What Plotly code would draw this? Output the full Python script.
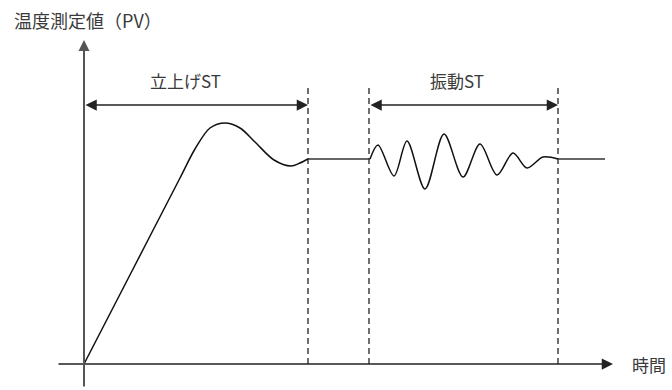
import plotly.graph_objects as go

# Process value (PV) over time, split into phases
# rise-up self-tuning (overshoot and settle)
rise_time = [0, 48, 96, 111, 126, 141, 156, 171, 190, 207, 216, 224]
rise_pv = [0, 93, 186, 215, 236, 241, 236, 222, 204, 198, 201, 205]
# hold between the two tuning phases
hold_time = [224, 286]
hold_pv = [205, 205]
# vibration self-tuning (oscillation around the set value)
vib_time = [286, 294, 310, 323, 341, 360, 379, 396, 413, 429, 443, 459, 474]
vib_pv = [205, 219, 188, 223, 175, 230, 187, 220, 189, 211, 196, 207, 205]
# steady state after tuning
end_time = [474, 521]
end_pv = [205, 205]

# Phase spans and labels
rise_st = [0, 224]
vib_st = [285, 474]
phase_labels = ["立上げST", "振動ST"]
label_x = [101, 373]
y_title = "温度測定値（PV）"
x_title = "時間"

# Plot extents (axis lines, arrow level, top of guide lines)
x_axis_span = [-27, 529]
y_axis_span = [-24, 324]
arrow_level = 259
guide_top = 278
label_level = 284

FONT = "Noto Sans CJK JP, Noto Sans, sans-serif"
TEXT_COLOR = "#3a3a3a"

fig = go.Figure()

for tx, ty, shape in [(rise_time, rise_pv, "spline"), (hold_time, hold_pv, "linear"),
                      (vib_time, vib_pv, "spline"), (end_time, end_pv, "linear")]:
    fig.add_trace(go.Scatter(
        x=tx, y=ty, mode="lines",
        line=dict(color="#111111" if shape == "spline" else "#333333",
                  width=1.5, shape=shape, smoothing=0.9),
        hoverinfo="skip", showlegend=False,
    ))

shapes = []
# dashed guide lines at the phase boundaries
for xb in [rise_st[1], vib_st[0], vib_st[1]]:
    shapes.append(dict(
        type="line", xref="x", yref="y", x0=xb, x1=xb, y0=0, y1=guide_top,
        line=dict(color="#222222", width=1.3, dash="6px,4px"), layer="below",
    ))

annotations = []
# axes drawn as arrows
annotations.append(dict(
    x=x_axis_span[1], y=0, ax=x_axis_span[0], ay=0,
    xref="x", yref="y", axref="x", ayref="y", text="",
    showarrow=True, arrowhead=2, arrowsize=1.5, arrowwidth=1.5, arrowcolor="#222222",
))
annotations.append(dict(
    x=0, y=y_axis_span[1], ax=0, ay=y_axis_span[0],
    xref="x", yref="y", axref="x", ayref="y", text="",
    showarrow=True, arrowhead=2, arrowsize=1.1, arrowwidth=2, arrowcolor="#555555",
))

# double-headed span arrows with labels
for (x0, x1), label, lx in zip([rise_st, vib_st], phase_labels, label_x):
    annotations.append(dict(
        x=x1, y=arrow_level, ax=x0, ay=arrow_level,
        xref="x", yref="y", axref="x", ayref="y", text="",
        showarrow=True, arrowside="end+start",
        arrowhead=2, startarrowhead=2,
        arrowsize=1.5, startarrowsize=1.5, arrowwidth=1.5, arrowcolor="#222222",
    ))
    annotations.append(dict(
        x=lx, y=label_level, xref="x", yref="y", text=label,
        showarrow=False, font=dict(family=FONT, size=17, color=TEXT_COLOR),
        xanchor="center", yanchor="middle",
    ))

annotations.append(dict(
    x=-72, y=344, xref="x", yref="y", text=y_title, showarrow=False,
    font=dict(family=FONT, size=18, color=TEXT_COLOR), xanchor="left", yanchor="middle",
))
annotations.append(dict(
    x=546, y=0, xref="x", yref="y", text=x_title, showarrow=False,
    font=dict(family=FONT, size=17, color=TEXT_COLOR), xanchor="left", yanchor="middle",
))

fig.update_layout(
    width=672, height=390,
    margin=dict(l=0, r=0, t=0, b=0),
    paper_bgcolor="white", plot_bgcolor="white",
    xaxis=dict(range=[-84, 588], visible=False, fixedrange=True),
    yaxis=dict(range=[-26, 364], visible=False, fixedrange=True),
    shapes=shapes, annotations=annotations,
)

fig.write_html("out.html")
